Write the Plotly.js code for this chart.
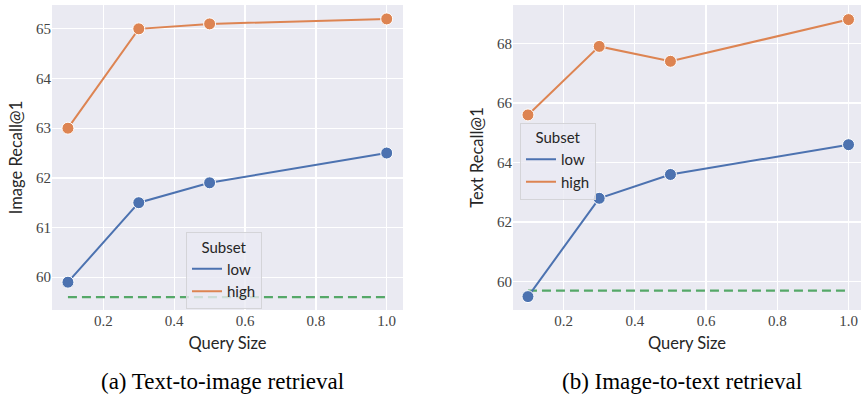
<!DOCTYPE html>
<html><head><meta charset="utf-8">
<script src="https://cdn.plot.ly/plotly-3.0.1.min.js"></script>
<style>html,body{margin:0;padding:0;background:#fff;}#chart{width:861px;height:394px;}</style>
</head><body><div id="chart"></div>
<script>
const querySize = [0.1, 0.3, 0.5, 1.0];
const t2iLow = [59.9, 61.5, 61.9, 62.5];
const t2iHigh = [63.0, 65.0, 65.1, 65.2];
const t2iBaseline = [59.6, 59.6, 59.6, 59.6];
const i2tLow = [59.5, 62.8, 63.6, 64.6];
const i2tHigh = [65.6, 67.9, 67.4, 68.8];
const i2tBaseline = [59.7, 59.7, 59.7, 59.7];
const seriesNames = ['low', 'high'];
const captions = ['(a) Text-to-image retrieval', '(b) Image-to-text retrieval'];
const yTitles = ['Image Recall@1', 'Text Recall@1'];
const xTitle = 'Query Size';

const BLUE = '#4C72B0', ORANGE = '#DD8452', GREEN = '#55A868';
const SANS = 'Lato';
const SERIF = 'Liberation Serif';

function panel(xa, ya, legend, low, high, base) {
  const out = [];
  out.push({x: querySize, y: base, xaxis: xa, yaxis: ya, mode: 'lines', showlegend: false,
    line: {color: GREEN, width: 2.2, dash: '9px,5px'}, hoverinfo: 'skip'});
  [[low, BLUE, seriesNames[0]], [high, ORANGE, seriesNames[1]]].forEach(([vals, c, n]) => {
    out.push({x: querySize, y: vals, xaxis: xa, yaxis: ya, mode: 'lines', name: n, legend: legend,
      line: {color: c, width: 2}});
  });
  [[low, BLUE], [high, ORANGE]].forEach(([vals, c]) => {
    out.push({x: querySize, y: vals, xaxis: xa, yaxis: ya, mode: 'markers', showlegend: false,
      marker: {color: c, size: 12, line: {color: '#fff', width: 1}}});
  });
  return out;
}

const data = [].concat(
  panel('x', 'y', 'legend', t2iLow, t2iHigh, t2iBaseline),
  panel('x2', 'y2', 'legend2', i2tLow, i2tHigh, i2tBaseline)
);

function tf() { return {family: SERIF, size: 15, color: '#444'}; }
function axBase() {
  return {showgrid: true, gridcolor: '#ffffff', gridwidth: 1.3, zeroline: false, showline: false,
    ticks: '', automargin: false, tickfont: tf()};
}
const yDom = [1 - 310/394, 1 - 5/394];
const titleFont = {family: SANS, size: 16.5, color: '#262626'};

const legendBase = {
  bgcolor: 'rgba(234,234,242,0.8)', bordercolor: '#d4d4d8', borderwidth: 1,
  font: {family: SANS, size: 15, color: '#262626'},
  title: {text: 'Subset', side: 'top center', font: {family: SANS, size: 15, color: '#262626'}},
  xanchor: 'left', yanchor: 'top', tracegroupgap: 0, itemwidth: 30
};

const layout = {
  width: 861, height: 394,
  margin: {l: 0, r: 0, t: 0, b: 0},
  font: {family: SERIF, color: '#444'},
  paper_bgcolor: '#ffffff', plot_bgcolor: '#EAEAF2',
  xaxis: Object.assign(axBase(), {domain: [52/861, 403/861], anchor: 'y', range: [0.055, 1.046],
    tickvals: [0.2, 0.4, 0.6, 0.8, 1.0], tickformat: '.1f',
    title: {text: xTitle, font: titleFont, standoff: 9}}),
  yaxis: Object.assign(axBase(), {domain: yDom, anchor: 'x', range: [59.34, 65.48],
    tickvals: [60, 61, 62, 63, 64, 65],
    title: {text: yTitles[0], font: titleFont, standoff: 9}}),
  xaxis2: Object.assign(axBase(), {domain: [513/861, 1], anchor: 'y2', range: [0.058, 1.035],
    tickvals: [0.2, 0.4, 0.6, 0.8, 1.0], tickformat: '.1f',
    title: {text: xTitle, font: titleFont, standoff: 9}}),
  yaxis2: Object.assign(axBase(), {domain: yDom, anchor: 'x2', range: [59.05, 69.29],
    tickvals: [60, 62, 64, 66, 68],
    title: {text: yTitles[1], font: titleFont, standoff: 9}}),
  legend: Object.assign({}, legendBase, {x: 186/861, y: 1 - 232/394}),
  legend2: Object.assign({}, legendBase, {x: 520/861, y: 1 - 122.5/394}),
  annotations: [
    {text: captions[0], xref: 'paper', yref: 'paper', x: 222/861, y: 1 - 381.5/394, xanchor: 'center', yanchor: 'middle',
     showarrow: false, font: {family: SERIF, size: 23, color: '#000'}},
    {text: captions[1], xref: 'paper', yref: 'paper', x: 682/861, y: 1 - 381.5/394, xanchor: 'center', yanchor: 'middle',
     showarrow: false, font: {family: SERIF, size: 23, color: '#000'}}
  ],
  showlegend: true
};

Plotly.newPlot('chart', data, layout, {displayModeBar: false, staticPlot: true});
</script></body></html>
